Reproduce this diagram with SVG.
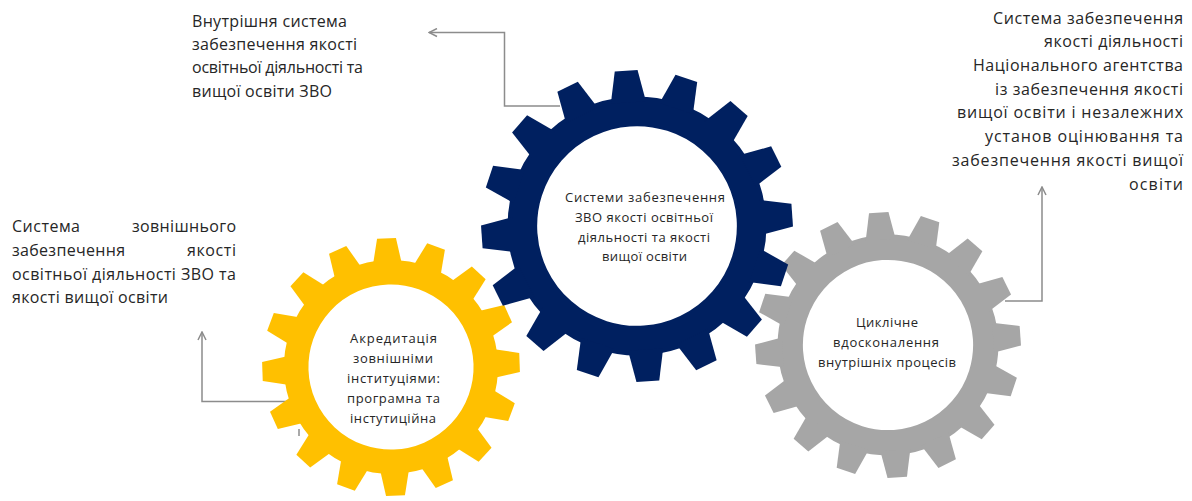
<svg xmlns="http://www.w3.org/2000/svg" width="1192" height="501" viewBox="0 0 1192 501">
<style>
.lbl{font-family:"Open Sans","Noto Sans","DejaVu Sans",sans-serif;font-size:16px;fill:#262626}
.glbl{font-family:"Open Sans","Noto Sans","DejaVu Sans",sans-serif;font-size:13px;fill:#262626;text-anchor:middle}
.end{text-anchor:end}
.conn{fill:none;stroke:#8c8c8c;stroke-width:1.5}
</style>
<defs>
<marker id="arr" viewBox="0 0 10 10" refX="9" refY="5" markerWidth="10" markerHeight="10" markerUnits="userSpaceOnUse" orient="auto">
<path d="M1,1 L9,5 L1,9" fill="none" stroke="#8c8c8c" stroke-width="1.5"/>
</marker>
<polygon id="tooth" points="79.3,-11.27 99.73,-7.32 99.73,7.32 79.3,11.27"/>
<g id="gear">
<circle r="73.5" fill="none" stroke="currentColor" stroke-width="19"/>
<g fill="currentColor">
<use href="#tooth"/>
<use href="#tooth" transform="rotate(22.5)"/>
<use href="#tooth" transform="rotate(45)"/>
<use href="#tooth" transform="rotate(67.5)"/>
<use href="#tooth" transform="rotate(90)"/>
<use href="#tooth" transform="rotate(112.5)"/>
<use href="#tooth" transform="rotate(135)"/>
<use href="#tooth" transform="rotate(157.5)"/>
<use href="#tooth" transform="rotate(180)"/>
<use href="#tooth" transform="rotate(202.5)"/>
<use href="#tooth" transform="rotate(225)"/>
<use href="#tooth" transform="rotate(247.5)"/>
<use href="#tooth" transform="rotate(270)"/>
<use href="#tooth" transform="rotate(292.5)"/>
<use href="#tooth" transform="rotate(315)"/>
<use href="#tooth" transform="rotate(337.5)"/>
</g>
</g>
</defs>
<rect width="1192" height="501" fill="#ffffff"/>

<g id="connectors">
<path class="conn" d="M560 106 H504.5 V32.5 H429" marker-end="url(#arr)"/>
<path class="conn" d="M1005 301 H1042 V187" marker-end="url(#arr)"/>
<path class="conn" d="M290 401.5 H202 V332" marker-end="url(#arr)"/>
<path class="conn" d="M299 429 V436"/>
</g>

<g id="gear-gray">
<use href="#gear" transform="translate(888 345) scale(1.33) rotate(-4)" color="#a6a6a6"/>
<text class="glbl" x="887" y="327" textLength="62">Циклічне</text>
<text class="glbl" x="886" y="347" textLength="106">вдосконалення</text>
<text class="glbl" x="887" y="367" textLength="138">внутрішніх процесів</text>
</g>

<g id="gear-yellow">
<use href="#gear" transform="translate(391 367) scale(1.29) rotate(-2)" color="#ffc000"/>
<text class="glbl" x="393.5" y="343" textLength="87">Акредитація</text>
<text class="glbl" x="393" y="363" textLength="80">зовнішніми</text>
<text class="glbl" x="393.5" y="383" textLength="93">інституціями:</text>
<text class="glbl" x="393.5" y="403" textLength="93">програмна та</text>
<text class="glbl" x="393" y="423" textLength="86">інстутиційна</text>
</g>

<g id="gear-blue">
<use href="#gear" transform="translate(637 226) scale(1.56) rotate(-4)" color="#002060"/>
<text class="glbl" x="645" y="201.5" textLength="160">Системи забезпечення</text>
<text class="glbl" x="644" y="221.5" textLength="138">ЗВО якості освітньої</text>
<text class="glbl" x="644" y="241.5" textLength="132">діяльності та якості</text>
<text class="glbl" x="644.5" y="261" textLength="85">вищої освіти</text>
</g>

<g id="label-internal">
<text class="lbl" x="192" y="26.7" textLength="155">Внутрішня система</text>
<text class="lbl" x="192" y="50" textLength="165">забезпечення якості</text>
<text class="lbl" x="192" y="73.3" textLength="171">освітньої діяльності та</text>
<text class="lbl" x="192" y="96.7" textLength="140">вищої освіти ЗВО</text>
</g>

<g id="label-agency">
<text class="lbl end" x="1183" y="23.5" textLength="190">Система забезпечення</text>
<text class="lbl end" x="1183" y="47.3" textLength="139">якості діяльності</text>
<text class="lbl end" x="1183" y="71" textLength="210">Національного агентства</text>
<text class="lbl end" x="1183" y="94.7" textLength="188">із забезпечення якості</text>
<text class="lbl end" x="1183" y="118.4" textLength="226">вищої освіти і незалежних</text>
<text class="lbl end" x="1183" y="142" textLength="198">установ оцінювання та</text>
<text class="lbl end" x="1183" y="165.8" textLength="231">забезпечення якості вищої</text>
<text class="lbl end" x="1183" y="189.5" textLength="54">освіти</text>
</g>

<g id="label-external">
<text class="lbl" x="12" y="231.7" textLength="68">Система</text>
<text class="lbl end" x="236" y="231.7" textLength="104">зовнішнього</text>
<text class="lbl" x="12" y="255.6" textLength="113">забезпечення</text>
<text class="lbl end" x="236" y="255.6" textLength="49">якості</text>
<text class="lbl" x="12" y="279.5" textLength="224">освітньої діяльності ЗВО та</text>
<text class="lbl" x="12" y="303.4" textLength="156">якості вищої освіти</text>
</g>
</svg>
